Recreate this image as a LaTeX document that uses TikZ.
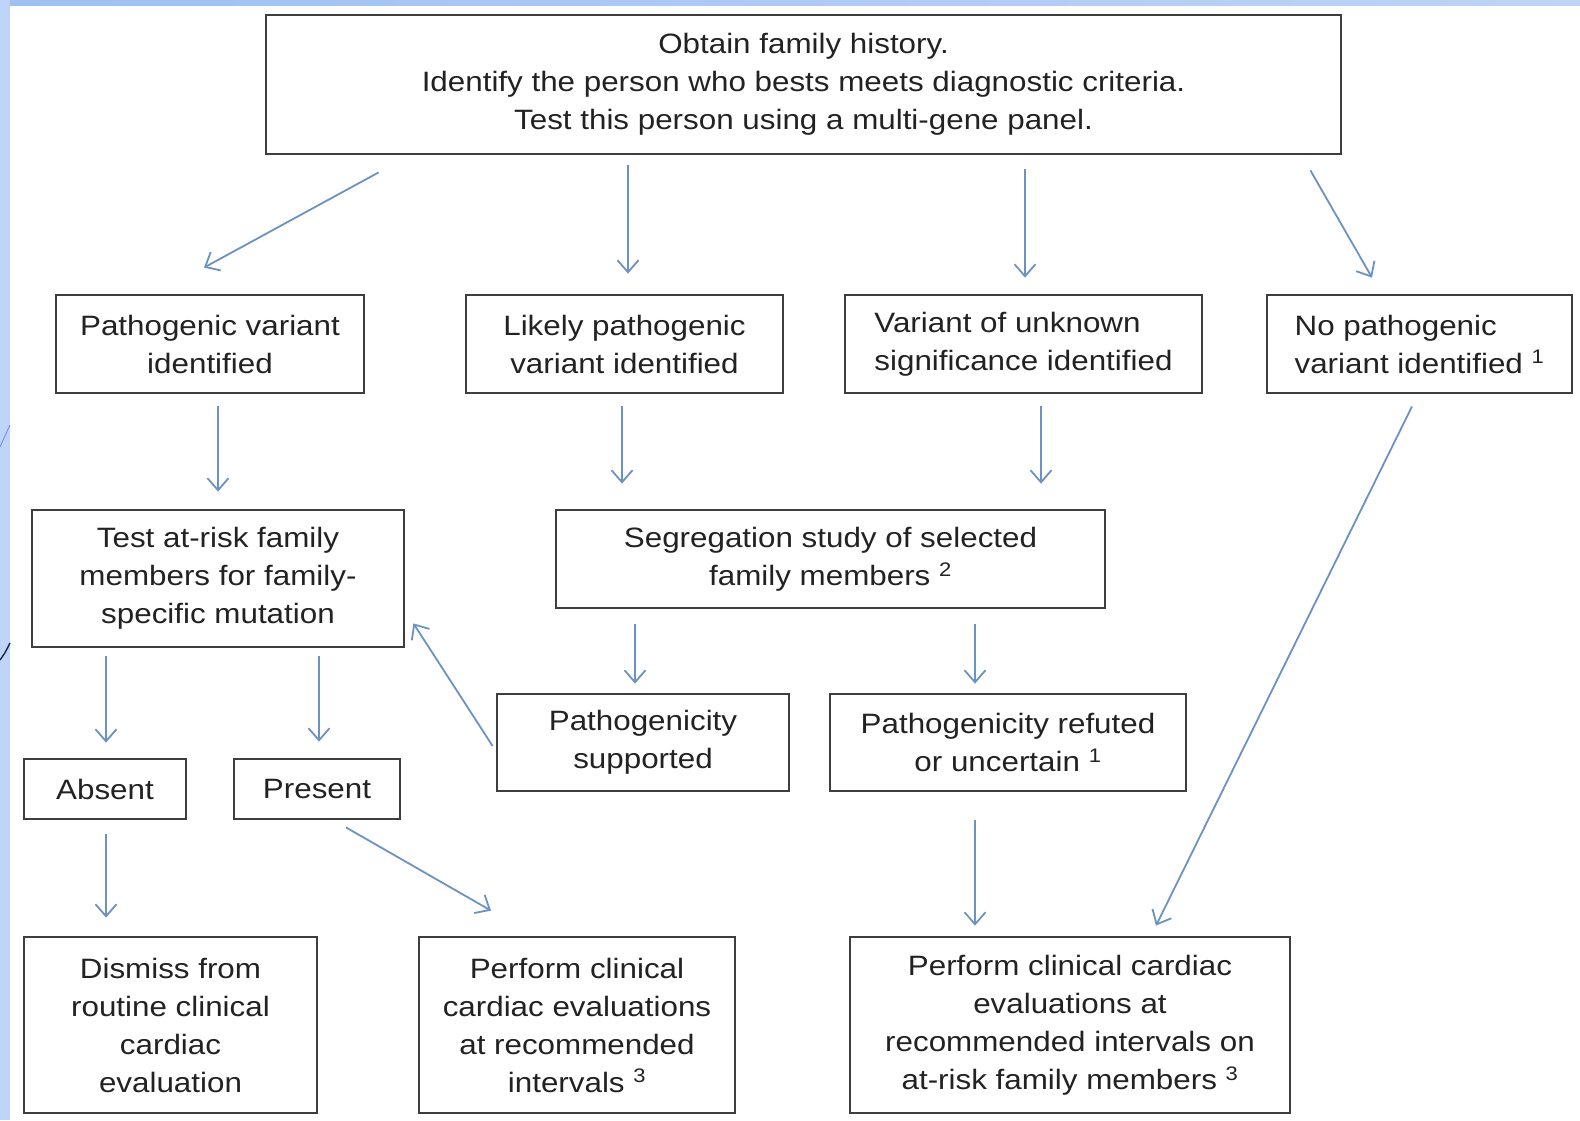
\documentclass[tikz,border=0pt]{standalone}
\usepackage{fontspec}
\setmainfont{Liberation Sans}[FakeStretch=1.12]
\usepackage{xcolor}
\usetikzlibrary{arrows.meta, positioning, calc}

\definecolor{arrowblue}{RGB}{108,146,196}
\definecolor{boxgray}{RGB}{62,62,62}
\definecolor{textgray}{RGB}{34,34,34}
\definecolor{slideblue}{RGB}{190,212,248}
\definecolor{slidedark}{RGB}{160,192,242}
\definecolor{slidenavy}{RGB}{30,36,80}

\begin{document}
\begin{tikzpicture}[
  x=1pt, y=1pt,
  block/.style={rectangle, draw=boxgray, line width=2.8pt, align=center,
    inner sep=0pt, font=\fontsize{28}{38}\selectfont, text=textgray},
  arrow/.style={-{Straight Barb[length=12pt, width=21pt]}, line width=1.8pt,
    draw=arrowblue}
]

% slide background
\useasboundingbox (0,0) rectangle (1580,-1120);
\fill[white] (0,0) rectangle (1580,-1120);
\fill[left color=slidedark, right color=slideblue] (0,0) rectangle (1580,-5);
\fill[slideblue] (0,0) rectangle (10,-1120);
\draw[slidedark!70!blue, line width=0.8pt] (0,-447) .. controls (4,-438) .. (10,-425);
\draw[slidenavy, line width=1.4pt] (0,-660) .. controls (5,-653) .. (10,-643);

% boxes
\node (top)     [block, minimum width=1075pt, minimum height=139pt] at (803.5,-84.5)
  {Obtain family history.\\Identify the person who bests meets diagnostic criteria.\\Test this person using a multi-gene panel.};
\node (pv)      [block, minimum width=308pt, minimum height=98pt] at (210,-344)
  {Pathogenic variant\\identified};
\node (lp)      [block, minimum width=317pt, minimum height=98pt] at (624.5,-344)
  {Likely pathogenic\\variant identified};
\node (vus)     [block, align=left, minimum width=357pt, minimum height=98pt] at (1023.5,-344)
  {Variant of unknown\\significance identified};
\node (np)      [block, align=left, minimum width=305pt, minimum height=98pt] at (1419.5,-344)
  {No pathogenic\\variant identified \textsuperscript{1}};
\node (test)    [block, minimum width=372pt, minimum height=137pt] at (218,-578.5)
  {Test at-risk family\\members for family-\\specific mutation};
\node (seg)     [block, minimum width=549pt, minimum height=98pt] at (830.5,-559)
  {Segregation study of selected\\family members \textsuperscript{2}};
\node (sup)     [block, minimum width=292pt, minimum height=97pt] at (643,-742.5)
  {Pathogenicity\\supported};
\node (ref)     [block, minimum width=356pt, minimum height=97pt] at (1008,-742.5)
  {Pathogenicity refuted\\or uncertain \textsuperscript{1}};
\node (absent)  [block, minimum width=162pt, minimum height=60pt] at (105,-789) {Absent};
\node (present) [block, minimum width=166pt, minimum height=60pt] at (317,-789) {Present};
\node (dismiss) [block, minimum width=293pt, minimum height=176pt] at (170.5,-1025)
  {Dismiss from\\routine clinical\\cardiac\\evaluation};
\node (perfm)   [block, minimum width=316pt, minimum height=176pt] at (577,-1025)
  {Perform clinical\\cardiac evaluations\\at recommended\\intervals \textsuperscript{3}};
\node (perfr)   [block, minimum width=440pt, minimum height=176pt] at (1070,-1025)
  {Perform clinical cardiac\\evaluations at\\recommended intervals on\\at-risk family members \textsuperscript{3}};

% arrows
\draw[arrow] ([xshift=114pt,yshift=-17pt]top.south west) -- ([xshift=-6pt,yshift=26pt]pv.north);
\draw[arrow] ([xshift=-175.5pt,yshift=-10pt]top.south) -- ([xshift=3.5pt,yshift=20pt]lp.north);
\draw[arrow] ([xshift=221.5pt,yshift=-14pt]top.south) -- ([xshift=1.5pt,yshift=16pt]vus.north);
\draw[arrow] ([xshift=-32pt,yshift=-15pt]top.south east) -- ([xshift=-47.5pt,yshift=16pt]np.north);

\draw[arrow] ([xshift=8pt,yshift=-12pt]pv.south) -- ([yshift=17pt]test.north);
\draw[arrow] ([xshift=-2.5pt,yshift=-12pt]lp.south) -- ([xshift=-208.5pt,yshift=25pt]seg.north);
\draw[arrow] ([xshift=17.5pt,yshift=-12pt]vus.south) -- ([xshift=210.5pt,yshift=25pt]seg.north);

\draw[arrow] ([xshift=-112pt,yshift=-8pt]test.south) -- ([xshift=1pt,yshift=15pt]absent.north);
\draw[arrow] ([xshift=101pt,yshift=-8pt]test.south) -- ([xshift=2pt,yshift=16pt]present.north);
\draw[arrow] ([xshift=-195.5pt,yshift=-15pt]seg.south) -- ([xshift=-8pt,yshift=9pt]sup.north);
\draw[arrow] ([xshift=144.5pt,yshift=-15pt]seg.south) -- ([xshift=-33pt,yshift=9pt]ref.north);
\draw[arrow] ([xshift=-3pt,yshift=-3.5pt]sup.west) -- ([xshift=8pt,yshift=25pt]test.south east);

\draw[arrow] ([xshift=1pt,yshift=-14pt]absent.south) -- ([xshift=-64.5pt,yshift=18pt]dismiss.north);
\draw[arrow] ([xshift=29pt,yshift=-7pt]present.south) -- ([xshift=-86pt,yshift=25pt]perfm.north);
\draw[arrow] ([xshift=-33pt,yshift=-28pt]ref.south) -- ([xshift=-95pt,yshift=10pt]perfr.north);
\draw[arrow] ([xshift=-7.5pt,yshift=-12pt]np.south) -- ([xshift=86pt,yshift=10pt]perfr.north);

\end{tikzpicture}
\end{document}
